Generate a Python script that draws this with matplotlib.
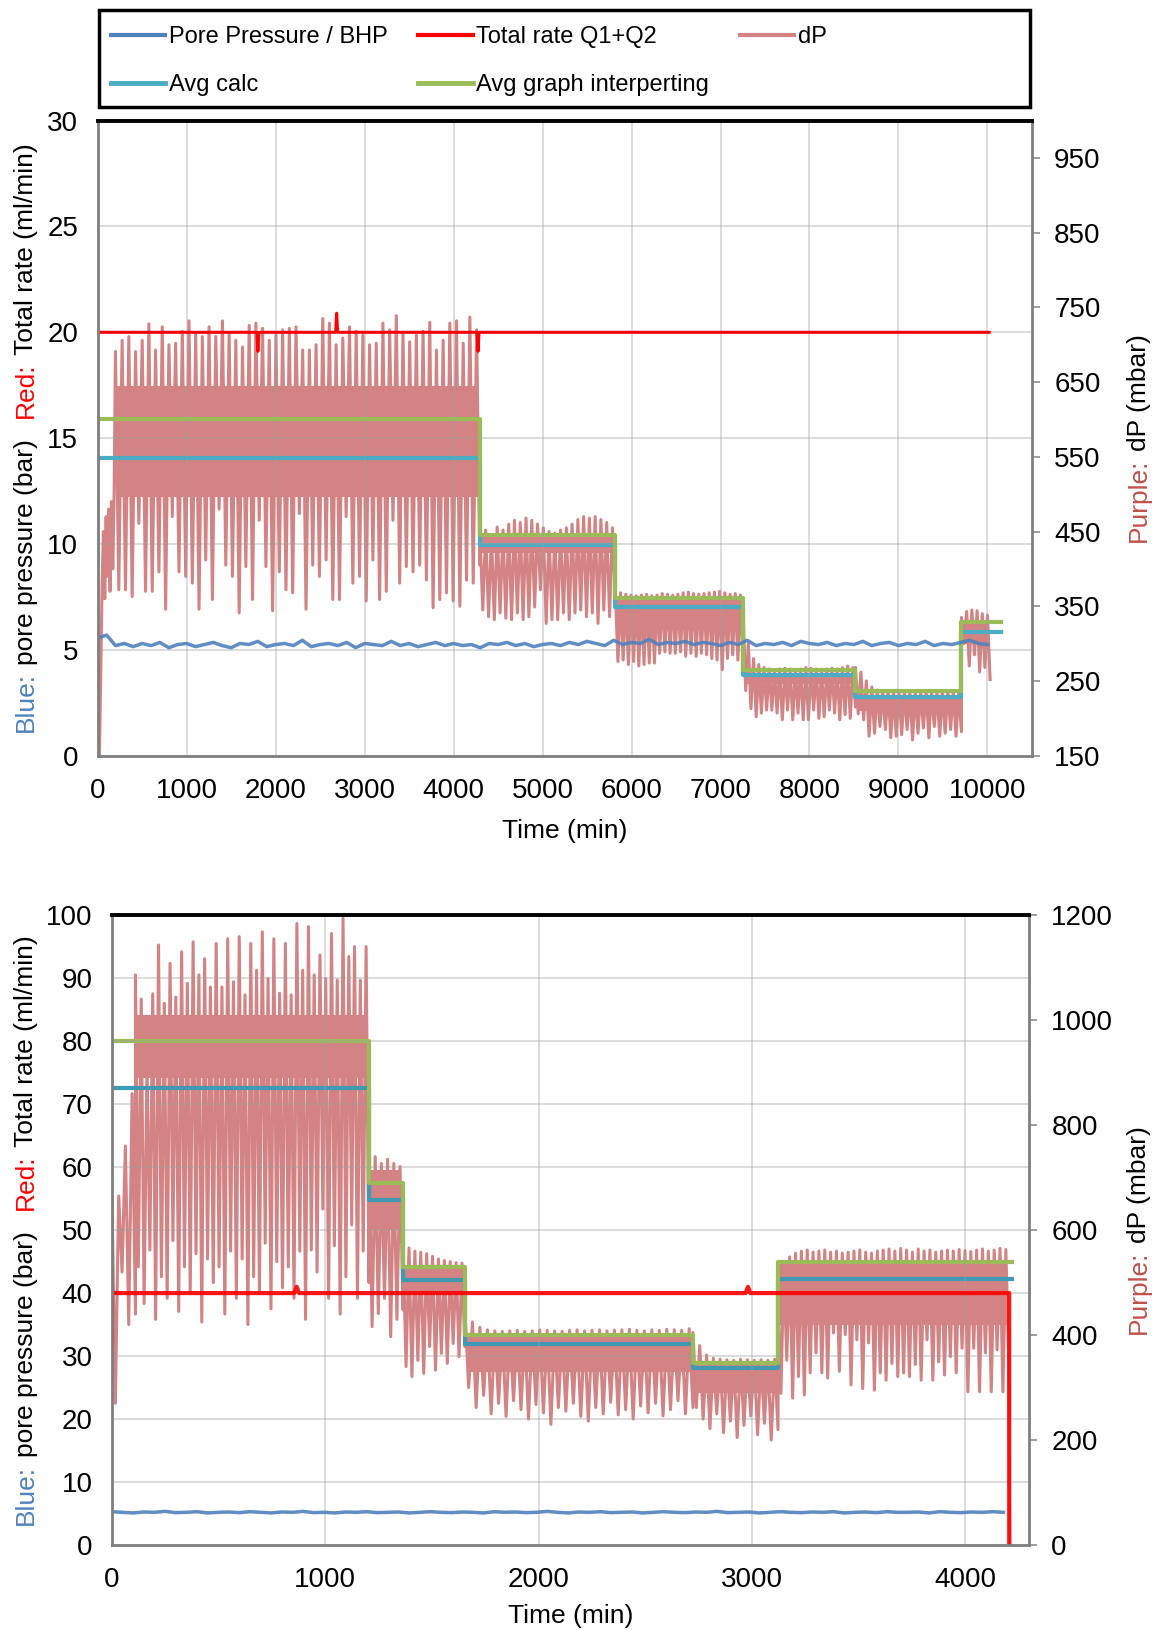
import numpy as np
import matplotlib.pyplot as plt
from matplotlib.lines import Line2D
from matplotlib.patches import Rectangle

plt.rcParams['font.family'] = ['Liberation Sans', 'DejaVu Sans']

# colours
BLUE = '#4f81bd'
RED = '#ff0000'
DP = '#d38383'
AVG = '#4bacc6'
GREEN = '#9bbb59'
PURPLE_TXT = '#c0504d'

# ---------------- top chart data ----------------
top_blue = [5.55, 5.7, 5.2, 5.3, 5.15, 5.3, 5.2, 5.35, 5.1, 5.25,
            5.3, 5.15, 5.25, 5.35, 5.2, 5.1, 5.3, 5.25, 5.4, 5.15,
            5.25, 5.3, 5.2, 5.45, 5.15, 5.25, 5.3, 5.2, 5.35, 5.1,
            5.3, 5.25, 5.2, 5.4, 5.2, 5.3, 5.15, 5.25, 5.35, 5.2,
            5.3, 5.2, 5.25, 5.1, 5.3, 5.25, 5.35, 5.2, 5.3, 5.15,
            5.25, 5.3, 5.2, 5.35, 5.25, 5.4, 5.3, 5.2, 5.45, 5.25,
            5.35, 5.3, 5.5, 5.25, 5.35, 5.3, 5.4, 5.25, 5.35, 5.3,
            5.2, 5.35, 5.25, 5.45, 5.2, 5.3, 5.25, 5.35, 5.2, 5.4,
            5.3, 5.25, 5.35, 5.2, 5.3, 5.25, 5.4, 5.2, 5.3, 5.35,
            5.2, 5.3, 5.25, 5.4, 5.2, 5.3, 5.25, 5.35, 5.45, 5.3, 5.25]
top_blue_end = 10000

top_rate_t = [0, 0, 1790, 1801, 1812, 2675, 2686, 2697, 4264, 4275, 4286, 10020]
top_rate_v = [0, 20, 20, 19.1, 20, 20, 20.9, 20, 20, 19.1, 20, 20]

# dP start-up before the first cycles
top_dp_start_t = [0, 20, 35, 50, 65, 80, 95, 110, 125, 140, 155, 170, 185]
top_dp_start_v = [150, 150, 260, 380, 450, 360, 470, 390, 480, 370, 490, 400, 500]

top_edges = [200, 4296, 5818, 7254, 8517, 9708, 10030]
top_peaks = [
    [691, 706, 711, 691, 706, 728, 693, 724, 700, 702,
     718, 732, 715, 711, 724, 711, 732, 715, 706, 697,
     726, 729, 722, 706, 713, 720, 722, 724, 693, 693,
     700, 735, 729, 700, 709, 724, 718, 713, 700, 702,
     729, 720, 739, 715, 704, 713, 718, 730, 693, 706,
     729, 732, 702, 737, 720],
    [448, 452, 445, 456, 452, 460, 465, 462, 468, 465, 460, 455,
     450, 448, 452, 455, 460, 466, 470, 468, 470, 466, 462, 455],
    [370, 368, 366, 365, 364, 365, 366, 364, 365, 367, 366, 365, 366,
     368, 369, 367, 366, 367, 368, 369, 370, 368, 366, 367, 365],
    [340, 300, 280, 272, 268, 266, 265, 266, 267, 266, 265,
     266, 268, 267, 266, 265, 266, 267, 266, 268, 270, 268],
    [268, 262, 250, 242, 238, 236, 236, 235, 236, 237,
     236, 235, 236, 237, 236, 235, 236, 237, 236, 236],
    [335, 343, 345, 344, 340, 338],
]
top_troughs = [
    [372, 372, 363, 461, 370, 370, 396, 346, 470, 396,
     390, 381, 346, 412, 359, 480, 405, 390, 341, 403,
     359, 465, 403, 344, 396, 372, 368, 474, 346, 405,
     390, 412, 359, 359, 470, 381, 390, 357, 412, 359,
     370, 465, 381, 403, 396, 405, 385, 348, 359, 368,
     357, 350, 385, 381, 405],
    [345, 336, 332, 341, 334, 332, 341, 332, 336, 349, 372, 327,
     332, 332, 341, 332, 341, 345, 336, 341, 327, 345, 336, 360],
    [276, 278, 272, 276, 270, 272, 274, 274, 287, 289, 287, 287, 289,
     283, 287, 283, 287, 285, 280, 278, 265, 280, 285, 278, 276],
    [237, 213, 202, 207, 211, 211, 207, 198, 211, 198, 207,
     198, 198, 211, 200, 202, 211, 207, 198, 205, 200, 215],
    [206, 198, 176, 180, 189, 185, 174, 176, 178, 185,
     171, 180, 187, 174, 189, 176, 180, 185, 176, 182],
    [300, 270, 285, 262, 268, 252],
]
top_band_lo = [496, 421, 318, 246, 210, 300]
top_band_hi = [645, 448, 360, 260, 230, 330]

top_avg_edges = [0, 4296, 5818, 7254, 8517, 9708, 10150]
top_green = [600, 445, 361, 265, 236, 329]
top_cyan = [548, 432, 349, 258, 229, 316]

# ---------------- bottom chart data ----------------
bot_blue = [5.3, 5.2, 5.1, 5.25, 5.2, 5.35, 5.15, 5.2, 5.3, 5.1,
            5.2, 5.25, 5.15, 5.3, 5.2, 5.1, 5.25, 5.2, 5.35, 5.15,
            5.2, 5.1, 5.25, 5.2, 5.3, 5.15, 5.2, 5.25, 5.1, 5.2,
            5.3, 5.2, 5.15, 5.25, 5.2, 5.1, 5.3, 5.2, 5.25, 5.15,
            5.2, 5.35, 5.2, 5.1, 5.25, 5.2, 5.3, 5.15, 5.2, 5.25,
            5.1, 5.2, 5.3, 5.2, 5.15, 5.25, 5.2, 5.35, 5.15, 5.2,
            5.25, 5.1, 5.2, 5.3, 5.2, 5.15, 5.25, 5.2, 5.3, 5.1,
            5.2, 5.25, 5.15, 5.3, 5.2, 5.2, 5.25, 5.1, 5.3, 5.2,
            5.15, 5.25, 5.2, 5.3, 5.2]
bot_blue_end = 4180

bot_rate_t = [0, 0, 855, 866, 877, 2971, 2982, 2993, 4207, 4207]
bot_rate_v = [32, 40, 40, 41, 40, 40, 41, 40, 40, 0]

bot_edges = [0, 110, 1205, 1365, 1655, 2724, 3123, 4205]
bot_peaks = [
    [660, 665, 760, 860],
    [1086, 1040, 917, 1050, 1143, 1032, 1108, 1044, 1130, 1070,
     1149, 1086, 1117, 1063, 1146, 1063, 1155, 1073, 1159, 1048,
     1146, 1095, 1168, 1079, 1155, 1051, 1146, 1048, 1184, 1095,
     1178, 1086, 1124, 1079, 1165, 1076, 1194, 1121, 1140, 1076, 1140],
    [765, 740, 727, 735, 727, 721],
    [570, 566, 560, 558, 555, 550, 545, 542, 540, 538, 537],
    [445, 425, 415, 410, 408, 407, 408, 409, 407, 408,
     410, 409, 408, 407, 409, 410, 408, 409, 410, 408,
     409, 410, 411, 409, 408, 410, 409, 411, 410, 409, 412],
    [405, 380, 362, 356, 354, 353, 352, 354, 353, 352, 353, 352, 354],
    [480, 530, 549, 556, 560, 562, 558, 560, 562, 558,
     560, 556, 558, 560, 562, 558, 556, 560, 562, 564,
     560, 565, 562, 558, 564, 560, 562, 558, 560, 562,
     560, 563, 561, 559, 562, 564, 560, 562, 565, 563],
]
bot_troughs = [
    [270, 520, 420, 440],
    [530, 460, 562, 430, 511, 470, 580, 445, 530, 480,
     555, 425, 545, 500, 530, 440, 560, 470, 545, 420,
     511, 480, 575, 450, 540, 490, 530, 470, 560, 430,
     562, 520, 640, 470, 570, 440, 511, 610, 470, 560, 500],
    [416, 441, 470, 397, 430, 448],
    [340, 321, 352, 327, 378, 333, 365, 346, 384, 359, 378],
    [300, 262, 285, 250, 270, 245, 275, 258, 240, 268,
     252, 230, 262, 255, 270, 245, 236, 262, 250, 272,
     248, 258, 240, 265, 252, 270, 246, 258, 275, 250, 262],
    [262, 240, 222, 250, 214, 236, 205, 228, 246, 210, 232, 200, 220],
    [289, 352, 280, 321, 286, 328, 366, 328, 318, 404,
     331, 401, 305, 391, 298, 385, 295, 328, 314, 346,
     321, 328, 321, 344, 314, 391, 314, 349, 324, 359,
     328, 375, 292, 375, 292, 366, 292, 372, 292, 349],
]
bot_band_lo = [None, 890, 600, 480, 330, 290, 420]
bot_band_hi = [None, 1010, 715, 528, 398, 343, 540]
bot_dp_end_t = [4210]
bot_dp_end_v = [0]

bot_avg_edges = [0, 1205, 1365, 1655, 2724, 3123, 4218]
bot_green = [960, 690, 530, 400, 346, 540]
bot_cyan = [870, 658, 505, 383, 337, 507]


def dp_cycles(edges, peaks, troughs):
    # peak / trough pairs spread over each segment
    tt, vv = [], []
    for i, (pk, tr) in enumerate(zip(peaks, troughs)):
        vals = []
        for p, q in zip(pk, tr):
            vals += [p, q]
        tt.append(np.linspace(edges[i], edges[i + 1], len(vals)))
        vv.append(vals)
    return np.concatenate(tt), np.concatenate(vv)


def dp_band(ax, edges, lo, hi, trim):
    for i in range(len(lo)):
        if lo[i] is None:
            continue
        ax.fill_between([edges[i] + trim, edges[i + 1] - trim], lo[i], hi[i],
                        color=DP, lw=0, zorder=1)


def color_ylabel(fig, x, yc, parts, size):
    r = fig.canvas.get_renderer()
    H = fig.bbox.height
    objs = []
    total = 0
    for s, c, gap in parts:
        t = fig.text(x, 0, s, color=c, fontsize=size, rotation=90,
                     rotation_mode='anchor', ha='left', va='baseline')
        h = t.get_window_extent(r).height + gap * size * fig.dpi / 72
        objs.append((t, h))
        total += h
    y = yc * H - total / 2
    for t, h in objs:
        t.set_position((x, y / H))
        y += h


def style(ax1, ax2, lpad):
    ax1.set_zorder(ax2.get_zorder() + 1)
    ax1.patch.set_visible(False)
    for s in ax2.spines.values():
        s.set_visible(False)
    for k in ['left', 'right', 'bottom']:
        ax1.spines[k].set_color('#7f7f7f')
        ax1.spines[k].set_linewidth(2)
    ax1.spines['top'].set_color('black')
    ax1.spines['top'].set_linewidth(2.8)
    ax1.grid(True, color='#a0a0a0', alpha=0.4, lw=1.3)
    ax1.tick_params(axis='both', length=0, labelsize=20, pad=14)
    ax1.tick_params(axis='x', pad=16)
    ax2.tick_params(axis='y', length=6, width=1.2, color='#8c8c8c',
                    labelsize=20, pad=10)
    ax1.set_xlabel('Time (min)', fontsize=19, labelpad=lpad)


fig = plt.figure(figsize=(11.57, 16.30), dpi=100)

# ---------------- top chart ----------------
ax1 = fig.add_axes([0.0844, 0.5364, 0.8075, 0.3896])
ax2 = ax1.twinx()

t_dp, v_dp = dp_cycles(top_edges, top_peaks, top_troughs)
t_dp = np.concatenate([top_dp_start_t, t_dp])
v_dp = np.concatenate([top_dp_start_v, v_dp])
dp_band(ax2, top_edges, top_band_lo, top_band_hi, 20)
ax2.plot(t_dp, v_dp, color=DP, lw=2.2, zorder=2)
ax2.step(top_avg_edges, top_cyan + [top_cyan[-1]], where='post', color=AVG, lw=3, zorder=3)
ax2.step(top_avg_edges, top_green + [top_green[-1]], where='post', color=GREEN, lw=3, zorder=4)

ax1.plot(np.linspace(0, top_blue_end, len(top_blue)), top_blue, color=BLUE, lw=2.5, alpha=0.9)
ax1.plot(top_rate_t, top_rate_v, color=RED, lw=2.2)

ax1.set_xlim(0, 10500)
ax1.set_ylim(0, 30)
ax1.set_xticks(np.arange(0, 10001, 1000))
ax1.set_yticks(np.arange(0, 31, 5))
ax2.set_ylim(150, 1000)
ax2.set_yticks(np.arange(150, 951, 100))
style(ax1, ax2, 11)

# ---------------- bottom chart ----------------
bx1 = fig.add_axes([0.0968, 0.0521, 0.7926, 0.3865])
bx2 = bx1.twinx()

t_dp, v_dp = dp_cycles(bot_edges, bot_peaks, bot_troughs)
t_dp = np.concatenate([t_dp, bot_dp_end_t])
v_dp = np.concatenate([v_dp, bot_dp_end_v])
dp_band(bx2, bot_edges, bot_band_lo, bot_band_hi, 8)
bx2.plot(t_dp, v_dp, color=DP, lw=2.2, zorder=2)
bx2.step(bot_avg_edges, bot_cyan + [bot_cyan[-1]], where='post', color='#3f98b4', lw=3, zorder=3)
bx2.step(bot_avg_edges, bot_green + [bot_green[-1]], where='post', color=GREEN, lw=3, zorder=4)

bx1.plot(np.linspace(0, bot_blue_end, len(bot_blue)), bot_blue, color=BLUE, lw=2.5, alpha=0.9)
bx1.plot(bot_rate_t, bot_rate_v, color=RED, lw=3, alpha=0.9)

bx1.set_xlim(0, 4300)
bx1.set_ylim(0, 100)
bx1.set_xticks(np.arange(0, 4001, 1000))
bx1.set_yticks(np.arange(0, 101, 10))
bx2.set_ylim(0, 1200)
bx2.set_yticks(np.arange(0, 1201, 200))
style(bx1, bx2, 8)

# ---------------- axis titles in colour ----------------
left_parts = [('Blue:', BLUE, 0.28), ('pore pressure (bar)', 'black', 0.8),
              ('Red:', RED, 0.28), ('Total rate (ml/min)', 'black', 0)]
right_parts = [('Purple:', PURPLE_TXT, 0.28), ('dP (mbar)', 'black', 0)]
color_ylabel(fig, 0.0281, 0.7313, left_parts, 19)
color_ylabel(fig, 0.0281, 0.2454, left_parts, 19)
color_ylabel(fig, 0.9905, 0.7313, right_parts, 19)
color_ylabel(fig, 0.9905, 0.2454, right_parts, 19)

# ---------------- legend ----------------
handles = [Line2D([], [], color=BLUE, lw=3), Line2D([], [], color=AVG, lw=3.5),
           Line2D([], [], color=RED, lw=3), Line2D([], [], color=GREEN, lw=3.5),
           Line2D([], [], color=DP, lw=3)]
labels = ['Pore Pressure / BHP', 'Avg calc', 'Total rate Q1+Q2',
          'Avg graph interperting', 'dP']
fig.legend(handles, labels, loc='upper left', bbox_to_anchor=(111 / 1157, 1 - 26 / 1630),
           ncol=3, frameon=False, fontsize=17, borderpad=0, borderaxespad=0,
           handlelength=2.3, handletextpad=0.15, columnspacing=1.3, labelspacing=1.12)
fig.patches.append(Rectangle((99 / 1157, 1 - 107 / 1630), 931 / 1157, 97 / 1630,
                             transform=fig.transFigure, fill=False,
                             edgecolor='black', lw=2.5))

fig.savefig('out.png', dpi=100)
